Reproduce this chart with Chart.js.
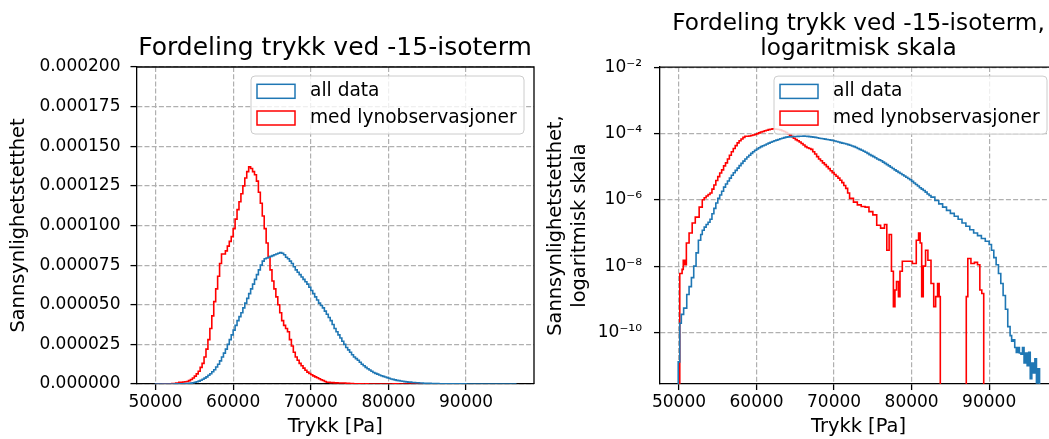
<!DOCTYPE html>
<html><head><meta charset="utf-8">
<script src="https://cdn.jsdelivr.net/npm/chart.js@4.4.1/dist/chart.umd.min.js"></script>
<style>
html,body{margin:0;padding:0;background:#fff;overflow:hidden;width:1049px;height:439px;}
canvas{position:absolute;top:0;}
</style></head><body>
<canvas id="lin" width="670" height="439" style="left:0px"></canvas>
<canvas id="log" width="669" height="439" style="left:524px"></canvas>
<script>
// ---- data (histogram bin left edges, last entry = right edge of last bin) ----
const seriesLabels = ['all data', 'med lynobservasjoner'];
const seriesColors = ['#1f77b4', '#ff0000'];

const blueEdges = [49900,50100,50300,50600,51000,51300,51600,51900,52200,52500,52800,
53000,53250,53500,53750,54000,54250,54500,54750,55000,55250,55500,55750,56000,56250,56500,56750,57000,57250,57500,57750,
58000,58250,58500,58750,59000,59250,59500,59750,60000,60250,60500,60750,61000,61250,61500,61750,62000,62250,62500,62750,
63000,63250,63500,63750,64000,64250,64500,64750,65000,65250,65500,65750,66000,66250,66500,66750,67000,67250,67500,67750,
68000,68250,68500,68750,69000,69250,69500,69750,70000,70250,70500,70750,71000,71250,71500,71750,72000,72250,72500,72750,
73000,73250,73500,73750,74000,74250,74500,74750,75000,75250,75500,75750,76000,76250,76500,76750,77000,77250,77500,77750,
78000,78250,78500,78750,79000,79250,79500,79750,80000,80250,80500,80750,81000,81250,81500,81750,82000,82250,82500,
83000,83500,84000,84500,85000,85500,86000,86500,87000,87500,88000,88500,89000,89500,90000,90300,90600,90900,91200,91500,91800,
92100,92400,92700,92900,93100,93300,93500,93700,93900,94100,94300,94500,94700,94900,95100,95300,95500,95700,95900,96100,96300,96500];
const blueValues = [1.3e-11,1.9e-10,3.5e-10,5.4e-10,1.4e-9,2.4e-9,4.5e-9,1e-8,2.5e-8,6e-8,9e-8,
1.2e-7,1.5e-7,1.8e-7,2.1e-7,2.6e-7,3.8e-7,5.5e-7,8e-7,1.1e-6,1.4e-6,1.8e-6,2.4e-6,3e-6,3.7e-6,4.5e-6,5.5e-6,6.5e-6,7.7e-6,9e-6,10.7e-6,
12.5e-6,14.6e-6,17e-6,19.5e-6,22e-6,25e-6,28e-6,31e-6,34e-6,37e-6,40e-6,42.5e-6,45e-6,48e-6,51e-6,54e-6,57e-6,60e-6,63e-6,66e-6,
69e-6,72e-6,75e-6,77.5e-6,79e-6,79.5e-6,80e-6,80.5e-6,81e-6,81.5e-6,82e-6,82.5e-6,83e-6,82.5e-6,81.5e-6,80e-6,79e-6,77.5e-6,76e-6,74e-6,
72e-6,70.5e-6,69e-6,67.5e-6,66e-6,64.5e-6,63e-6,61e-6,59e-6,57e-6,55e-6,53e-6,51e-6,49.5e-6,48e-6,46e-6,44e-6,42e-6,40e-6,37.5e-6,
35e-6,33e-6,31e-6,29e-6,27e-6,25e-6,23e-6,21.5e-6,20e-6,18.5e-6,17e-6,16e-6,15e-6,13.7e-6,12.5e-6,11.5e-6,10.5e-6,9.6e-6,8.8e-6,8e-6,
7.3e-6,6.7e-6,6.2e-6,5.7e-6,5.2e-6,4.8e-6,4.4e-6,4e-6,3.6e-6,3.2e-6,2.9e-6,2.6e-6,2.3e-6,2.1e-6,1.9e-6,1.7e-6,1.5e-6,1.35e-6,1.2e-6,
0.95e-6,0.75e-6,0.6e-6,0.48e-6,0.39e-6,0.32e-6,0.26e-6,0.2e-6,0.16e-6,0.125e-6,0.1e-6,0.083e-6,0.068e-6,0.056e-6,0.045e-6,0.03e-6,0.018e-6,0.011e-6,6e-9,3e-9,1.3e-9,
5e-10,1.5e-10,8e-11,5.4e-11,6e-11,3.5e-11,2.5e-11,3.5e-11,2.4e-11,2.2e-11,3.5e-11,1.2e-11,2.4e-11,1e-11,2.5e-11,4e-12,1.2e-11,6e-12,1.6e-11,3e-12,8e-12];

const redEdges = [50100,50400,50550,50750,50950,51300,51700,52100,52600,
53000,53250,53500,53750,54000,54250,54500,54750,55000,55250,55500,55750,56000,56250,56500,56750,57000,57250,57500,57750,
58000,58250,58500,58750,59000,59250,59500,59750,60000,60250,60500,60750,61000,61250,61500,61750,62000,62250,62500,62750,
63000,63250,63500,63750,64000,64250,64500,64750,65000,65250,65500,65750,66000,66250,66500,66750,67000,67250,67500,67750,
68000,68250,68500,68750,69000,69250,69500,69750,70000,70250,70500,70750,71000,71250,71500,71750,72000,
72500,73000,73500,74000,74500,75000,75500,76000,76500,76800,77100,77400,77650,77850,78050,78300,78500,78800,79500,80100,80600,80900,
81100,81300,81500,81800,82100,82500,82850,83100,83350,83550,83700,87050,87250,87650,88100,88500,88800,89050,89300];
const redValues = [6e-9,8e-9,1.5e-8,1.1e-8,5e-8,1e-7,2e-7,3e-7,6e-7,
1e-6,1.15e-6,1.3e-6,1.45e-6,1.6e-6,2.1e-6,2.8e-6,3.8e-6,5e-6,6.4e-6,8e-6,10.5e-6,13e-6,17e-6,22e-6,28e-6,35e-6,43e-6,52e-6,60e-6,
68e-6,76e-6,82e-6,82e-6,84e-6,87e-6,90e-6,93e-6,98e-6,104e-6,110e-6,115e-6,120e-6,125e-6,130e-6,134e-6,137e-6,136e-6,134e-6,132e-6,
128e-6,121e-6,114e-6,106e-6,98e-6,89e-6,80e-6,72e-6,65e-6,60e-6,55e-6,50e-6,45e-6,40e-6,37e-6,35e-6,33e-6,28e-6,24e-6,20e-6,
17e-6,15e-6,13e-6,11.5e-6,10e-6,8.7e-6,7.5e-6,6.6e-6,5.8e-6,5.1e-6,4.5e-6,3.9e-6,3.3e-6,2.7e-6,2.2e-6,1.6e-6,1.1e-6,
0.85e-6,0.7e-6,0.63e-6,0.6e-6,0.44e-6,0.35e-6,0.17e-6,0.14e-6,0.18e-6,3e-8,9e-8,7e-9,6e-10,1.9e-9,3.4e-9,1.2e-9,7e-9,1.4e-8,1.4e-8,1.2e-8,6e-8,1e-7,
5e-8,1.2e-9,1e-8,3e-8,1.5e-8,3e-9,6e-10,1.2e-9,3e-9,1.2e-9,0,1.2e-9,1.7e-8,1.2e-8,1.3e-8,1.1e-8,1.9e-9,1.5e-9];

const xTicks = [50000, 60000, 70000, 80000, 90000];
const xTickLabels = ['50000', '60000', '70000', '80000', '90000'];
const linYTicks = [0, 0.000025, 0.00005, 0.000075, 0.0001, 0.000125, 0.00015, 0.000175, 0.0002];
const linYTickLabels = ['0.000000','0.000025','0.000050','0.000075','0.000100','0.000125','0.000150','0.000175','0.000200'];
const logYTicks = [1e-2, 1e-4, 1e-6, 1e-8, 1e-10];
const logYTickLabels = ['10\u207B\u00B2', '10\u207B\u2074', '10\u207B\u2076', '10\u207B\u2078', '10\u207B\u00B9\u2070'];

const titleLin = 'Fordeling trykk ved -15-isoterm';
const titleLog = ['Fordeling trykk ved -15-isoterm,', 'logaritmisk skala'];
const xLabel = 'Trykk [Pa]';
const yLabelLin = 'Sannsynlighetstetthet';
const yLabelLog = ['Sannsynlighetstetthet,', 'logaritmisk skala'];

// ---- helpers ----
const FONT = 'DejaVu Sans';
Chart.defaults.font.family = FONT;
Chart.defaults.color = '#000';

function stepPoints(edges, values, floor) {
  const f = v => (floor !== undefined && !(v > 0)) ? floor : v;
  const pts = [{x: edges[0], y: f(0)}];
  for (let i = 0; i < values.length; i++) pts.push({x: edges[i], y: f(values[i])});
  pts.push({x: edges[edges.length - 1], y: f(0)});
  return pts;
}

const framePlugin = {
  id: 'frame',
  afterDatasetsDraw(chart) {
    const ctx = chart.ctx, a = chart.chartArea;
    ctx.save();
    ctx.strokeStyle = '#000';
    ctx.lineWidth = 1.3;
    ctx.beginPath();
    ctx.moveTo(a.left, a.top); ctx.lineTo(a.right, a.top); ctx.lineTo(a.right, a.bottom);
    ctx.stroke();
    // legend
    const W = 273, H = 58;
    const L = a.right - 10 - W, T = a.top + 9;
    const r = 4;
    ctx.beginPath();
    ctx.moveTo(L + r, T); ctx.lineTo(L + W - r, T); ctx.arcTo(L + W, T, L + W, T + r, r);
    ctx.lineTo(L + W, T + H - r); ctx.arcTo(L + W, T + H, L + W - r, T + H, r);
    ctx.lineTo(L + r, T + H); ctx.arcTo(L, T + H, L, T + H - r, r);
    ctx.lineTo(L, T + r); ctx.arcTo(L, T, L + r, T, r);
    ctx.closePath();
    ctx.fillStyle = 'rgba(255,255,255,0.8)';
    ctx.fill();
    ctx.strokeStyle = '#cccccc';
    ctx.lineWidth = 1;
    ctx.stroke();
    chart.data.datasets.forEach((ds, i) => {
      const cy = T + 15.3 + i * 26.7;
      ctx.strokeStyle = ds.borderColor;
      ctx.lineWidth = 1.5;
      ctx.strokeRect(L + 6, cy - 7, 38, 14);
      ctx.fillStyle = '#000';
      ctx.font = '18.6px "' + FONT + '"';
      ctx.textBaseline = 'middle';
      ctx.textAlign = 'left';
      ctx.fillText(ds.label, L + 59, cy);
    });
    ctx.restore();
  }
};

function xScale() {
  return {
    type: 'linear', min: 47550, max: 98750,
    afterBuildTicks: s => { s.ticks = xTicks.map(v => ({value: v})); },
    afterFit: s => { s.height = 55; },
    ticks: {font: {size: 17}, padding: 2, maxRotation: 0, autoSkip: false,
      callback: (v) => xTickLabels[xTicks.indexOf(v)]},
    grid: {color: '#b0b0b0', lineWidth: 1.2, tickColor: '#000', tickLength: 6, tickWidth: 1.3},
    border: {color: '#000', width: 1.3, dash: [5, 2.2]},
    title: {display: true, text: xLabel, font: {size: 19.4}, padding: {top: 0, bottom: 0}}
  };
}

// empty right-side spacer axis so the full-width title centres over the plot area
function spacerScale(w) {
  return {
    type: 'linear', position: 'right', display: true, min: 0, max: 1,
    afterBuildTicks: s => { s.ticks = []; },
    afterFit: s => { s.width = w; },
    ticks: {display: false}, grid: {display: false, drawTicks: false}, border: {display: false}
  };
}

function datasets(floor) {
  return [
    {label: seriesLabels[0], data: stepPoints(blueEdges, blueValues, floor), borderColor: seriesColors[0], borderWidth: 1.6, stepped: 'before', pointRadius: 0, fill: false},
    {label: seriesLabels[1], data: stepPoints(redEdges, redValues, floor), borderColor: seriesColors[1], borderWidth: 1.6, stepped: 'before', pointRadius: 0, fill: false}
  ];
}

new Chart(document.getElementById('lin'), {
  type: 'line',
  data: {datasets: datasets()},
  plugins: [framePlugin],
  options: {
    responsive: false, animation: false, devicePixelRatio: 1,
    layout: {padding: 0},
    plugins: {
      legend: {display: false}, tooltip: {enabled: false},
      title: {display: true, text: titleLin, fullSize: true, font: {size: 25, weight: 'normal', lineHeight: 1.2}, color: '#000', padding: {top: 33.05, bottom: 3.95}}
    },
    scales: {
      x: xScale(),
      y: {
        type: 'linear', min: 0, max: 0.0002,
        afterBuildTicks: s => { s.ticks = linYTicks.map(v => ({value: v})); },
        afterFit: s => { s.width = 136.5; },
        ticks: {font: {size: 17}, padding: 10, callback: (v, i) => linYTickLabels[i]},
        grid: {color: '#b0b0b0', lineWidth: 1.2, tickColor: '#000', tickLength: 6, tickWidth: 1.3},
        border: {color: '#000', width: 1.3, dash: [5, 2.2]},
        title: {display: true, text: yLabelLin, font: {size: 19.4}, padding: {top: 7.7, bottom: 0}}
      },
      yR: spacerScale(136)
    }
  }
});

new Chart(document.getElementById('log'), {
  type: 'line',
  data: {datasets: datasets(1e-30)},
  plugins: [framePlugin],
  options: {
    responsive: false, animation: false, devicePixelRatio: 1,
    layout: {padding: 0},
    plugins: {
      legend: {display: false}, tooltip: {enabled: false},
      title: {display: true, text: titleLog, fullSize: true, font: {size: 23.2, weight: 'normal', lineHeight: 1.08}, color: '#000', padding: {top: 11.2, bottom: 5.8}}
    },
    scales: {
      x: xScale(),
      y: {
        type: 'logarithmic', min: 2.79e-12, max: 1e-2,
        afterBuildTicks: s => { s.ticks = logYTicks.map(v => ({value: v})); },
        afterFit: s => { s.width = 136; },
        ticks: {font: {size: 17}, padding: 12, callback: (v, i) => logYTickLabels[i]},
        grid: {color: '#b0b0b0', lineWidth: 1.2, tickColor: '#000', tickLength: 6, tickWidth: 1.3},
        border: {color: '#000', width: 1.3, dash: [5, 2.2]},
        title: {display: true, text: yLabelLog, font: {size: 19.4}, padding: {top: 20.7, bottom: 0}}
      },
      yR: spacerScale(136)
    }
  }
});
</script>
</body></html>
